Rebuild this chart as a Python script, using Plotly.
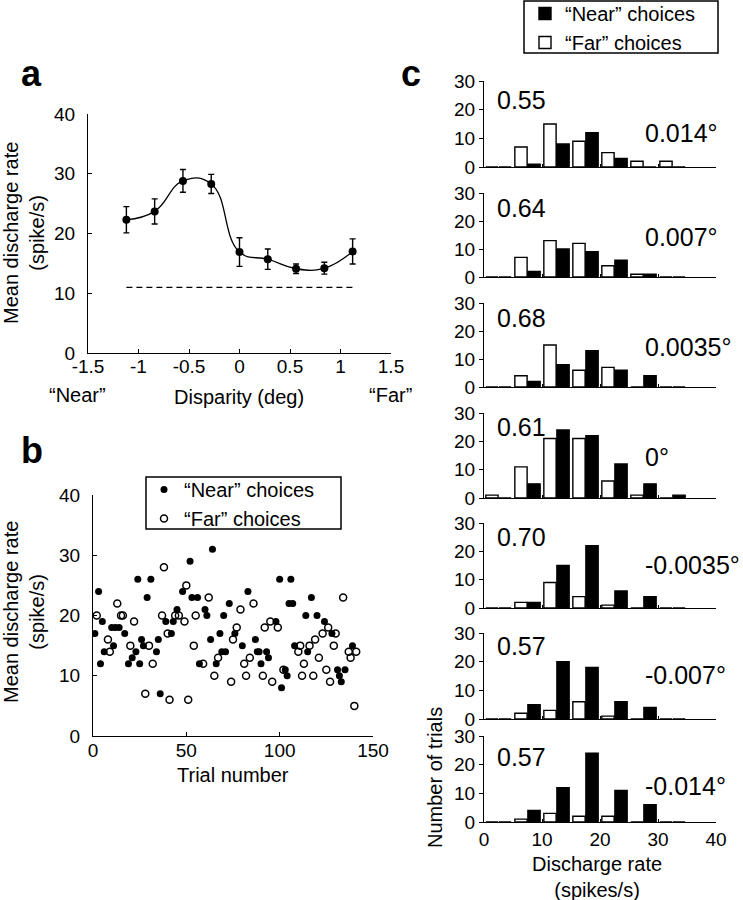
import plotly.graph_objects as go

# ---------------- data ----------------
# panel a: tuning curve
disparity = [-1.12, -0.84, -0.56, -0.28, 0.0, 0.28, 0.56, 0.84, 1.12]
rate_mean = [22.3, 23.7, 28.8, 28.3, 16.9, 15.7, 14.1, 14.2, 17.0]
rate_sem = [2.2, 2.1, 1.9, 1.6, 2.4, 1.7, 0.8, 1.0, 2.1]
spont_rate = 11.0
disp_ticks = [-1.5, -1, -0.5, 0, 0.5, 1, 1.5]
disp_ticklabels = ["-1.5", "-1", "-0.5", "0", "0.5", "1", "1.5"]

# panel b: trial-by-trial rates
near_trial = [1, 3, 4, 5, 6, 10, 11, 12, 14, 17, 19, 21, 23, 24, 25, 26, 27, 29, 31, 34,
              35, 36, 39, 42, 43, 45, 48, 52, 53, 56, 57, 60, 61, 63, 64, 66, 68, 69, 70, 71,
              73, 76, 80, 83, 87, 88, 89, 90, 93, 94, 98, 100, 101, 103, 104, 105, 106, 107, 108, 114,
              115, 117, 120, 124, 128, 131, 132, 133, 135, 139]
near_rate = [17, 24, 12, 19, 14, 18, 15, 18, 18, 17, 12, 13, 14, 26, 12, 16, 15, 23, 26, 14,
             16, 7, 19, 17, 19, 21, 24, 29, 23, 23, 12, 21, 20, 16, 31, 12, 17, 14, 20, 14,
             22, 17, 15, 24, 16, 14, 14, 12, 14, 13, 19, 26, 8, 11, 10, 22, 26, 22, 15, 20,
             14, 23, 20, 19, 17, 11, 10, 9, 11, 15]
far_trial = [2, 8, 9, 13, 15, 16, 20, 22, 28, 30, 32, 37, 38, 40, 41, 44, 46, 49, 50, 51,
             54, 55, 59, 62, 65, 67, 74, 75, 77, 79, 81, 82, 84, 86, 91, 92, 95, 96, 99, 102,
             110, 111, 112, 113, 116, 118, 119, 121, 123, 125, 126, 127, 129, 130, 134, 137, 138, 140, 141]
far_rate = [20, 16, 14, 22, 20, 20, 15, 19, 7, 15, 12, 20, 28, 17, 6, 20, 20, 19, 25, 6,
            15, 20, 12, 23, 10, 13, 9, 16, 18, 21, 12, 10, 13, 22, 10, 18, 19, 9, 18, 11,
            14, 15, 10, 12, 15, 10, 16, 13, 17, 11, 18, 9, 15, 17, 23, 14, 13, 5, 14]
trial_ticks = [0, 50, 100, 150]

# panel c: histograms (bins of 5 spikes/s)
bin_centers = [2.5, 7.5, 12.5, 17.5, 22.5, 27.5, 32.5]
disp_labels = ["0.014°", "0.007°", "0.0035°", "0°", "-0.0035°", "-0.007°", "-0.014°"]
cp_labels = ["0.55", "0.64", "0.68", "0.61", "0.70", "0.57", "0.57"]
far_counts = [
    [0, 7, 15, 9, 5, 2, 2],
    [0, 7, 13, 12, 4, 1, 0],
    [0, 4, 15, 6, 7, 0, 0],
    [1, 11, 21, 21, 6, 1, 0],
    [0, 2, 9, 4, 1, 0, 0],
    [0, 2, 3, 6, 1, 0, 0],
    [0, 1, 3, 2, 2, 0, 0],
]
near_counts = [
    [0, 1, 8, 12, 3, 0, 0],
    [0, 2, 10, 9, 6, 1, 0],
    [0, 2, 8, 13, 6, 4, 0],
    [0, 5, 24, 22, 12, 5, 1],
    [0, 2, 15, 22, 6, 4, 0],
    [0, 5, 20, 18, 6, 4, 0],
    [0, 4, 12, 24, 11, 6, 0],
]
rate_ticks = [0, 10, 20, 30, 40]
count_ticks = [0, 10, 20, 30]

# ---------------- layout helpers ----------------
W, H = 743, 900
FONT = "Liberation Sans, Arial, Helvetica, sans-serif"


def fx(px):
    return px / W


def fy(py):
    return 1 - py / H


def axis_style(**kw):
    d = dict(showline=True, linecolor="black", linewidth=1.3, showgrid=False,
             zeroline=False, ticks="inside", ticklen=4, tickwidth=1.3, tickcolor="black",
             automargin=False,
             tickfont=dict(size=19, family=FONT, color="black"))
    d.update(kw)
    return d


fig = go.Figure()

# ---------------- panel a ----------------
fig.add_trace(go.Scatter(x=disparity, y=rate_mean, mode="lines",
                         line=dict(shape="spline", smoothing=1.3, color="black", width=1.3),
                         xaxis="x", yaxis="y", showlegend=False, hoverinfo="skip"))
fig.add_trace(go.Scatter(x=disparity, y=rate_mean, mode="markers",
                         marker=dict(size=8, color="black"),
                         error_y=dict(type="data", array=rate_sem, color="black",
                                      thickness=1.4, width=3),
                         xaxis="x", yaxis="y", showlegend=False))
fig.add_trace(go.Scatter(x=[min(disparity), max(disparity)], y=[spont_rate, spont_rate],
                         mode="lines", line=dict(color="black", width=1.3, dash="6px,4px"),
                         xaxis="x", yaxis="y", showlegend=False, hoverinfo="skip"))

# ---------------- panel b ----------------
fig.add_trace(go.Scatter(x=near_trial, y=near_rate, mode="markers", name="“Near” choices",
                         marker=dict(size=7, color="black", symbol="circle"),
                         xaxis="x2", yaxis="y2", legend="legend"))
fig.add_trace(go.Scatter(x=far_trial, y=far_rate, mode="markers", name="“Far” choices",
                         marker=dict(size=7, color="black", symbol="circle-open",
                                     line=dict(width=1.5, color="black")),
                         xaxis="x2", yaxis="y2", legend="legend"))

# ---------------- panel c ----------------
c_zero = [167, 277, 387, 498, 608, 719, 822]
c_top = [81, 193, 303, 413, 523, 633, 736]
cp_off = [19, 15, 15, 14, 14, 13, 21]
deg_off = [52, 44, 44, 44, 42, 42, 50]

annotations = []
layout_axes = {}
for i in range(7):
    n = i + 3
    xa, ya = f"x{n}", f"y{n}"
    fig.add_trace(go.Bar(x=bin_centers, y=far_counts[i], name="“Far” choices",
                         marker=dict(color="white", line=dict(color="black", width=1.4)),
                         xaxis=xa, yaxis=ya, legend="legend2", legendrank=2,
                         showlegend=(i == 0)))
    fig.add_trace(go.Bar(x=bin_centers, y=near_counts[i], name="“Near” choices",
                         marker=dict(color="black", line=dict(color="black", width=1.4)),
                         xaxis=xa, yaxis=ya, legend="legend2", legendrank=1,
                         showlegend=(i == 0)))
    layout_axes[f"xaxis{n}"] = axis_style(
        domain=[fx(484), fx(716)], range=[0, 40], tickvals=rate_ticks,
        showticklabels=(i == 6), anchor=ya, ticklen=3)
    layout_axes[f"yaxis{n}"] = axis_style(
        domain=[fy(c_zero[i]), fy(c_top[i])], range=[0, 30], tickvals=count_ticks,
        anchor=xa, ticks="outside", ticklen=4)
    annotations.append(dict(text=cp_labels[i], x=fx(495), y=fy(c_top[i] + cp_off[i]),
                            xref="paper", yref="paper", xanchor="left", yanchor="middle",
                            showarrow=False, font=dict(size=25, family=FONT, color="black")))
    annotations.append(dict(text=disp_labels[i], x=fx(643), y=fy(c_top[i] + deg_off[i]),
                            xref="paper", yref="paper", xanchor="left", yanchor="middle",
                            showarrow=False, font=dict(size=25, family=FONT, color="black")))


def txt(text, px, py, size=20, bold=False, angle=0, xanchor="center"):
    return dict(text=f"<b>{text}</b>" if bold else text, x=fx(px), y=fy(py),
                xref="paper", yref="paper", xanchor=xanchor, yanchor="middle",
                showarrow=False, textangle=angle,
                font=dict(size=size, family=FONT, color="black"))


annotations += [
    txt("a", 19, 73, size=36, bold=True, xanchor="left"),
    txt("b", 19, 450, size=36, bold=True, xanchor="left"),
    txt("c", 399, 73, size=36, bold=True, xanchor="left"),
    txt("Mean discharge rate<br>(spike/s)", 24, 233, angle=-90),
    txt("“Near”", 77, 395),
    txt("Disparity (deg)", 239, 397),
    txt("“Far”", 390, 395),
    txt("Mean discharge rate<br>(spike/s)", 24, 612, angle=-90),
    txt("Trial number", 233, 775),
    txt("Number of trials", 435, 778, angle=-90),
    txt("Discharge rate<br>(spikes/s)", 597, 877),
]

# legend frames (boxes around the two legends)
shapes = [
    dict(type="rect", xref="paper", yref="paper", x0=fx(146), x1=fx(341), y0=fy(529), y1=fy(477),
         line=dict(color="black", width=1.5), fillcolor="rgba(0,0,0,0)"),
    dict(type="rect", xref="paper", yref="paper", x0=fx(524), x1=fx(718), y0=fy(53), y1=fy(1),
         line=dict(color="black", width=1.5), fillcolor="rgba(0,0,0,0)"),
]

fig.update_layout(
    template="none",
    width=W, height=H, margin=dict(l=0, r=0, t=0, b=0, pad=0, autoexpand=False),
    paper_bgcolor="white", plot_bgcolor="white",
    font=dict(family=FONT, size=19, color="black"),
    barmode="group", bargap=0.1, bargroupgap=0.06,
    xaxis=axis_style(domain=[fx(88), fx(391)], range=[-1.5, 1.5], tickvals=disp_ticks,
                     ticktext=disp_ticklabels, anchor="y", ticklabelstandoff=-4),
    yaxis=axis_style(domain=[fy(353), fy(114)], range=[0, 40], tickvals=[0, 10, 20, 30, 40],
                     anchor="x", ticklabelstandoff=8),
    xaxis2=axis_style(domain=[fx(93), fx(373)], range=[0, 150], tickvals=trial_ticks,
                      anchor="y2", ticklabelstandoff=-3),
    yaxis2=axis_style(domain=[fy(736), fy(495)], range=[0, 40], tickvals=[0, 10, 20, 30, 40],
                      anchor="x2", ticklabelstandoff=8),
    legend=dict(x=fx(144), y=fy(470), xanchor="left", yanchor="top",
                borderwidth=0, bgcolor="rgba(0,0,0,0)",
                font=dict(size=20, family=FONT, color="black"), tracegroupgap=0),
    legend2=dict(x=fx(525), y=fy(-6), xanchor="left", yanchor="top",
                 borderwidth=0, bgcolor="rgba(0,0,0,0)",
                 font=dict(size=20, family=FONT, color="black"), tracegroupgap=0),
    annotations=annotations,
    shapes=shapes,
)
fig.update_layout(**layout_axes)

fig.write_html(
    "out.html",
    config={"displayModeBar": False},
    post_script="document.body.style.margin='0px';document.documentElement.style.overflow='hidden';",
)
